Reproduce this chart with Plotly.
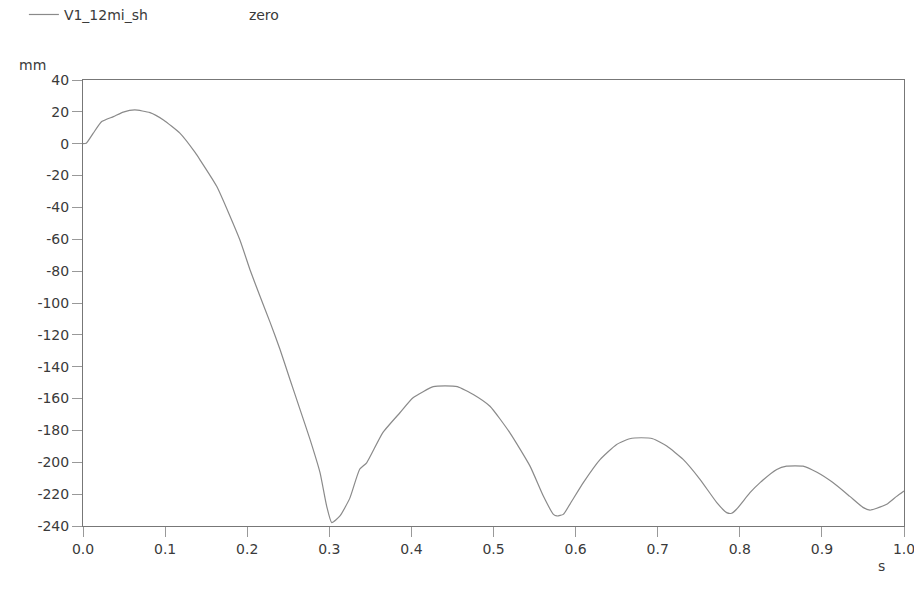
import plotly.graph_objects as go

# data
t_s = [0.000, 0.004, 0.0125, 0.0228, 0.037, 0.049, 0.063, 0.0816, 0.098, 0.118, 0.1365,
       0.1425, 0.163, 0.191, 0.2034, 0.2156, 0.2278, 0.240, 0.2521, 0.2643, 0.2765, 0.2887,
       0.2968, 0.303, 0.313, 0.325, 0.337, 0.3455, 0.365, 0.386, 0.402, 0.4267, 0.441, 0.456,
       0.4754, 0.4957, 0.520, 0.5445, 0.5607, 0.573, 0.5773, 0.585, 0.593, 0.6094, 0.630,
       0.650, 0.666, 0.680, 0.694, 0.711, 0.731, 0.7515, 0.772, 0.784, 0.790, 0.796, 0.8124,
       0.825, 0.845, 0.857, 0.867, 0.877, 0.894, 0.913, 0.934, 0.950, 0.9586, 0.966, 0.979,
       0.991, 1.000]
disp_mm = [0.0, 0.3, 6.6, 13.9, 17.0, 19.8, 21.2, 19.5, 14.9, 6.6, -5.5,
           -10.1, -26.9, -60.3, -79.1, -95.8, -112.0, -129.2, -148.0, -166.8, -185.6, -206.5,
           -227.5, -237.9, -233.7, -222.5, -204.4, -200.3, -181.5, -168.9, -159.5, -152.5, -152.0, -152.5,
           -157.4, -164.8, -181.5, -202.4, -221.2, -232.7, -233.7, -232.7, -226.4, -212.8, -198.2,
           -188.8, -185.2, -184.6, -185.2, -189.8, -198.2, -210.7, -225.3, -231.6, -232.0, -229.5, -219.1,
           -212.6, -204.5, -202.4, -202.2, -202.4, -206.3, -212.6, -221.4, -228.3, -230.0, -229.0, -226.4,
           -221.4, -218.0]

x_ticks = [0.0, 0.1, 0.2, 0.3, 0.4, 0.5, 0.6, 0.7, 0.8, 0.9, 1.0]
x_tick_labels = ["0.0", "0.1", "0.2", "0.3", "0.4", "0.5", "0.6", "0.7", "0.8", "0.9", "1.0"]
y_ticks = [40, 20, 0, -20, -40, -60, -80, -100, -120, -140, -160, -180, -200, -220, -240]
y_tick_labels = ["40", "20", "0", "-20", "-40", "-60", "-80", "-100", "-120", "-140",
                 "-160", "-180", "-200", "-220", "-240"]

fig = go.Figure()
fig.add_trace(go.Scatter(x=t_s, y=disp_mm, mode="lines", name="V1_12mi_sh",
                         line=dict(color="#8a8a8a", width=1.2, shape="spline", smoothing=0.5)))
fig.add_trace(go.Scatter(x=[None], y=[None], mode="lines", name="zero",
                         line=dict(color="rgba(255,255,255,0)", width=1)))

font = dict(family="DejaVu Sans, sans-serif", size=14, color="#3a3a3a")
fig.update_layout(
    width=914, height=593,
    margin=dict(l=75, r=18, t=72, b=75, autoexpand=False),
    paper_bgcolor="white", plot_bgcolor="white",
    font=font,
    showlegend=True,
    legend=dict(orientation="h", x=-0.072, y=1.146, xanchor="left", yanchor="middle",
                entrywidth=140, font=font, bgcolor="rgba(0,0,0,0)", itemwidth=30),
    xaxis=dict(range=[0, 1.0], tickvals=x_ticks, ticktext=x_tick_labels,
               showgrid=False, zeroline=False, showline=True, linecolor="#777", linewidth=1,
               mirror=True, ticks="outside", ticklen=10, tickcolor="#999", automargin=False),
    yaxis=dict(range=[-240, 40], tickvals=y_ticks, ticktext=y_tick_labels,
               showgrid=False, zeroline=False, showline=True, linecolor="#777", linewidth=1,
               mirror=True, ticks="outside", ticklen=10, tickcolor="#999", automargin=False),
    annotations=[
        dict(text="mm", xref="paper", yref="paper", x=-0.08, y=1.011, xanchor="left",
             yanchor="bottom", showarrow=False, font=font),
        dict(text="s", xref="paper", yref="paper", x=0.966, y=-0.067, xanchor="left",
             yanchor="top", showarrow=False, font=font),
    ],
)

fig.write_html("out.html")
